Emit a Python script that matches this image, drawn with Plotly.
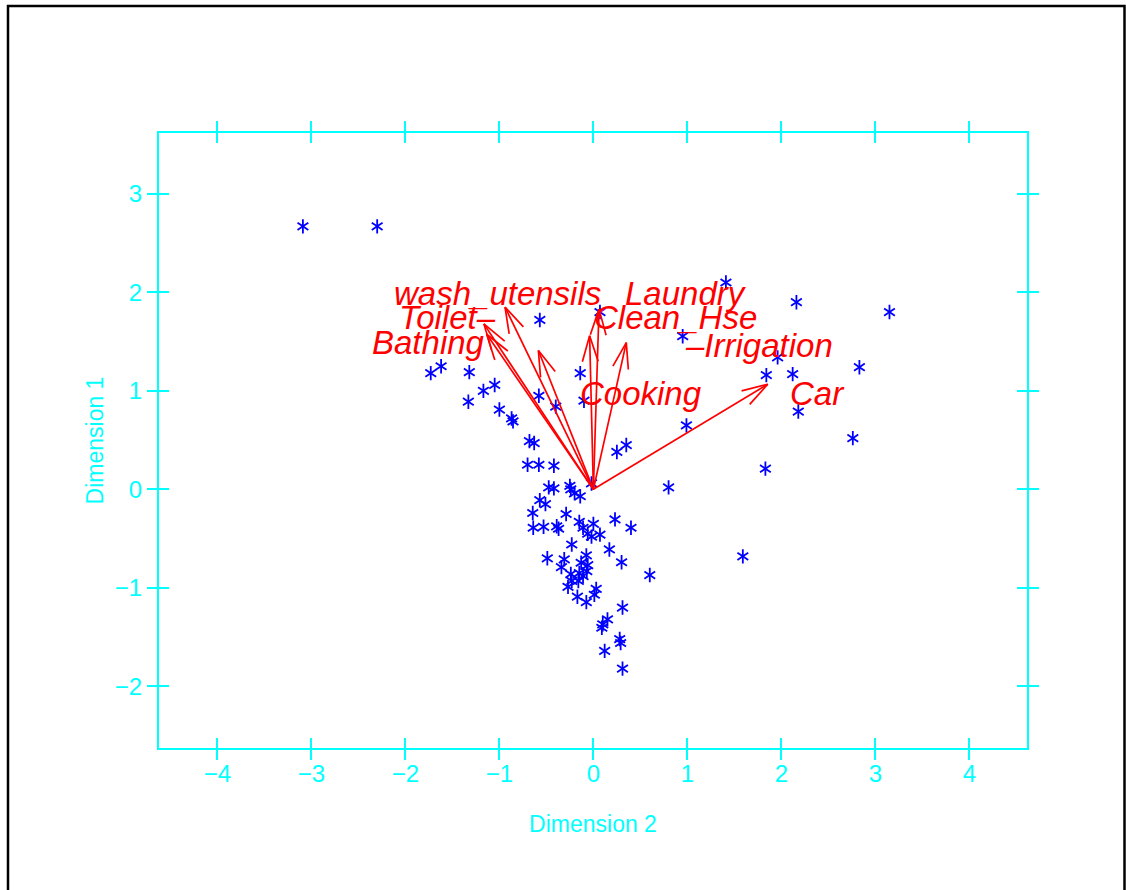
import math
import plotly.graph_objects as go

# ---------------- data ----------------
pts_x = [-3.09, -2.30, 1.41, 2.16, 3.15, 0.95, 1.96, 1.84, 2.12, 2.83,
         2.18, 2.76, 1.83, 0.99, 0.80, 1.59, -0.57, 0.07, -0.14, -0.10,
         -0.58, -0.40, 0.25, 0.35, -1.73, -1.62, -1.32, -1.33, -1.17, -1.05,
         -1.00, -0.87, -0.855, -0.68, -0.63, -0.70, -0.58, -0.42,
         -0.475, -0.42, -0.25, -0.24, -0.20, -0.14, -0.02,
         -0.57, -0.51, -0.645, -0.29, -0.64, -0.53, -0.39, -0.37, -0.15, -0.11,
         0.00, -0.06, -0.02, 0.07, 0.23, 0.40, -0.23, -0.49, -0.31, -0.34,
         -0.075, -0.13, 0.17, 0.30, 0.60,
         -0.24, -0.15, -0.07, -0.11, -0.23, -0.16, -0.27, -0.06,
         0.03, 0.01, -0.17, -0.075, 0.31, 0.15, 0.10, 0.09, 0.28, 0.29, 0.12, 0.31]
pts_y = [2.67, 2.67, 2.10, 1.90, 1.80, 1.555, 1.34, 1.16, 1.17, 1.24,
         0.79, 0.52, 0.21, 0.65, 0.02, -0.68, 1.72, 1.80, 1.18, 0.90,
         0.95, 0.84, 0.38, 0.45, 1.18, 1.25, 1.19, 0.89, 1.00, 1.06,
         0.81, 0.72, 0.69, 0.49, 0.47, 0.25, 0.25, 0.24,
         0.02, 0.01, 0.035, 0.00, -0.04, -0.07, 0.06,
         -0.11, -0.15, -0.24, -0.25, -0.39, -0.38, -0.375, -0.40, -0.33, -0.39,
         -0.35, -0.45, -0.48, -0.46, -0.305, -0.39, -0.56, -0.70, -0.71, -0.79,
         -0.67, -0.745, -0.61, -0.74, -0.87,
         -0.86, -0.85, -0.83, -0.88, -0.93, -0.93, -0.99, -0.77,
         -1.01, -1.07, -1.09, -1.145, -1.20, -1.32, -1.37, -1.405, -1.52, -1.56, -1.64, -1.82]

var_names = ["Bathing", "Toilet", "wash_utensils", "Laundry", "Clean_Hse", "Cooking", "Irrigation", "Car"]
load_x = [-1.135, -1.165, -0.94, -0.585, 0.06, -0.04, 0.35, 1.855]
load_y = [1.575, 1.68, 1.85, 1.41, 1.83, 1.56, 1.49, 1.067]

label_text = ["wash_utensils", "Laundry", "Toilet\u2013", "Clean_Hse", "Bathing", "\u2013Irrigation", "Cooking", "Car"]
label_x = [-2.146, 0.31, -2.09, -0.01, -2.38, 0.95, -0.16, 2.07]
label_y = [1.99, 1.99, 1.745, 1.745, 1.49, 1.46, 0.975, 0.975]

x_ticks = [-4, -3, -2, -1, 0, 1, 2, 3, 4]
y_ticks = [-2, -1, 0, 1, 2, 3]

# ---------------- layout geometry ----------------
W, H = 1126, 890
ML, MR, MT, MB = 159, 99, 133, 142
XR = [-4.621, 4.613]
YR = [-2.626, 3.618]
CYAN = "#00FFFF"

plot_w = W - ML - MR
plot_h = H - MT - MB
sx = plot_w / (XR[1] - XR[0])
sy = plot_h / (YR[1] - YR[0])

# arrows: shaft + open V head (head computed in pixel space)
HEAD = 27.0
ANG = math.radians(17)
ax_, ay_ = [], []
for x, y in zip(load_x, load_y):
    ax_ += [0, x, None]
    ay_ += [0, y, None]
    dx, dy = x * sx, y * sy
    L = math.hypot(dx, dy)
    ux, uy = dx / L, dy / L
    for s in (1, -1):
        c, si = math.cos(s * ANG), math.sin(s * ANG)
        rx = ux * c - uy * si
        ry = ux * si + uy * c
        ax_ += [x - HEAD * rx / sx, x, None]
        ay_ += [y - HEAD * ry / sy, y, None]

fig = go.Figure()

for sym in ("y-up-open", "y-down-open"):
    fig.add_trace(go.Scatter(
        x=pts_x, y=pts_y, mode="markers",
        marker=dict(symbol=sym, size=9, color="#0000FF", line=dict(width=1.8, color="#0000FF")),
        hoverinfo="skip", showlegend=False))

fig.add_trace(go.Scatter(
    x=ax_, y=ay_, mode="lines",
    line=dict(color="#FF0000", width=1.7),
    hoverinfo="skip", showlegend=False))

# invisible trace on the overlay axes (inside tick halves)
fig.add_trace(go.Scatter(x=[0], y=[0], xaxis="x2", yaxis="y2", mode="markers",
                         marker=dict(opacity=0), hoverinfo="skip", showlegend=False))

for t, x, y in zip(label_text, label_x, label_y):
    fig.add_annotation(x=x, y=y, text=t, showarrow=False, xanchor="left", yanchor="middle",
                       font=dict(family="Liberation Sans", size=33, color="#FF0000", style="italic"))

axis_common = dict(showgrid=False, zeroline=False, showline=True, linecolor=CYAN, linewidth=2,
                   tickcolor=CYAN, tickwidth=1.5, ticklen=10, mirror="ticks")

fig.update_layout(
    width=W, height=H,
    margin=dict(l=ML, r=MR, t=MT, b=MB, pad=0),
    paper_bgcolor="white", plot_bgcolor="white",
    font=dict(family="Liberation Sans", color=CYAN),
    xaxis=dict(range=XR, tickvals=x_ticks, ticks="outside", ticklabelstandoff=-7,
               tickfont=dict(size=24, color=CYAN),
               title=dict(text="Dimension 2", font=dict(size=23, color=CYAN), standoff=30),
               **axis_common),
    yaxis=dict(range=YR, tickvals=y_ticks, ticks="outside",
               tickfont=dict(size=24, color=CYAN),
               title=dict(text="Dimension 1", font=dict(size=23, color=CYAN), standoff=5),
               **axis_common),
    xaxis2=dict(range=XR, tickvals=x_ticks, ticks="inside", overlaying="x", showticklabels=False,
                anchor="y2", **axis_common),
    yaxis2=dict(range=YR, tickvals=y_ticks, ticks="inside", overlaying="y", showticklabels=False,
                anchor="x2", **axis_common),
)

# outer black frame
fig.add_shape(type="rect", xref="paper", yref="paper",
              x0=(8 - ML) / plot_w, x1=(1124.5 - ML) / plot_w,
              y0=(H - MB - 896) / plot_h, y1=(H - MB - 6) / plot_h,
              line=dict(color="black", width=2.5), fillcolor="rgba(0,0,0,0)", layer="below")

fig.write_html("out.html", config={"displayModeBar": False},
               post_script="document.body.style.margin='0px';")
